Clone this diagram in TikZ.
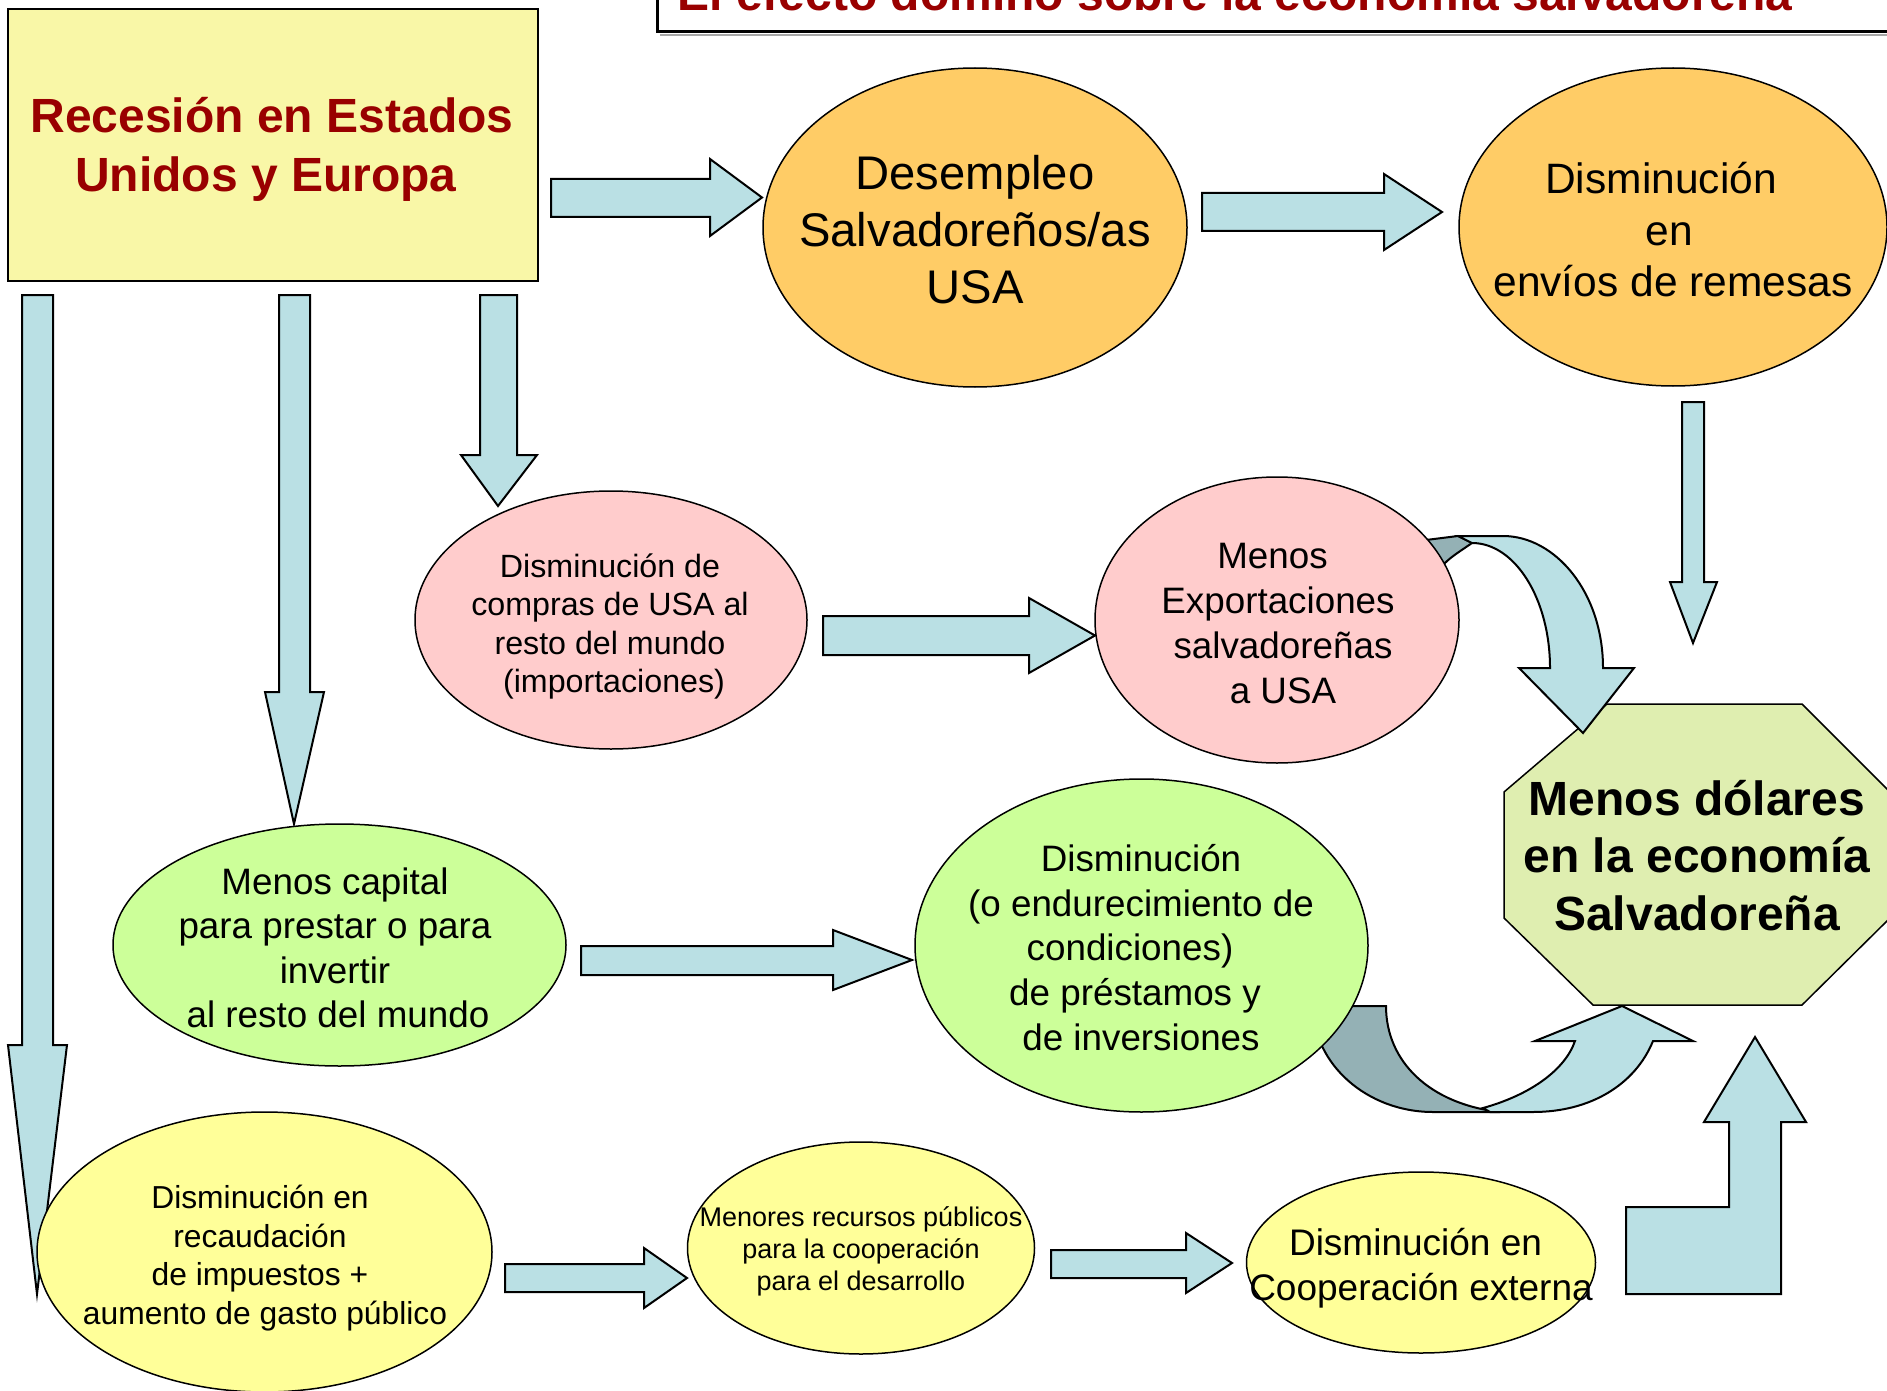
\documentclass[tikz,border=0pt]{standalone}
\usepackage{fontspec}
\setmainfont{Liberation Sans}
\usepackage{graphicx}
\usetikzlibrary{shapes.geometric}
\definecolor{boxyellow}{HTML}{F9F7A7}
\definecolor{darkred}{HTML}{990000}
\definecolor{orangefill}{HTML}{FFCC66}
\definecolor{pinkfill}{HTML}{FFCCCC}
\definecolor{greenfill}{HTML}{CCFF99}
\definecolor{octfill}{HTML}{DFEEB0}
\definecolor{yellowfill}{HTML}{FFFF99}
\definecolor{arrowblue}{HTML}{BAE0E4}
\definecolor{arrowdark}{HTML}{94B1B5}
% size, baselineskip, lines
\newcommand{\mtext}[3]{{\fontsize{#1}{#2}\selectfont\begin{tabular}{@{}c@{}}#3\end{tabular}}}
\newcommand{\ts}[1]{\hspace*{#1pt}}
\begin{document}
\begin{tikzpicture}[x=1pt,y=-1pt,
  ell/.style={ellipse, draw=black, line width=1.5pt, inner sep=0pt, outer sep=0pt},
  barrow/.style={draw=black, fill=arrowblue, line width=2pt, line join=miter},
  bdark/.style={draw=black, fill=arrowdark, line width=2pt},
  txt/.style={inner sep=0pt, outer sep=0pt, text=black}]
\clip (0,0) rectangle (1887,1391);
\fill[white] (0,0) rectangle (1887,1391);

% title box (cut at top)
\draw[black!35, line width=2pt] (660,35.5) -- (1900,35.5);
\draw[black, line width=3pt] (657,-30) -- (657,32) -- (1900,32);
\node[txt, text=darkred, font=\fontsize{48}{58}\selectfont\bfseries, anchor=base] (title) at (1235,11) {El efecto dominó sobre la economía salvadoreña};

% main box
\node[draw=black, line width=2pt, fill=boxyellow, minimum width=530, minimum height=272, inner sep=0pt, anchor=north west] (rec) at (7,8) {};

% straight block arrows
\draw[barrow] (551,179) -- (710,179) -- (710,159) -- (762,197.5) -- (710,236) -- (710,217) -- (551,217) -- cycle;
\draw[barrow] (1202,193) -- (1384,193) -- (1384,174) -- (1442,212) -- (1384,250) -- (1384,231) -- (1202,231) -- cycle;
\draw[barrow] (823,616) -- (1029,616) -- (1029,598) -- (1095,635.5) -- (1029,673) -- (1029,655) -- (823,655) -- cycle;
\draw[barrow] (581,946) -- (833,946) -- (833,930) -- (912,960) -- (833,990) -- (833,975) -- (581,975) -- cycle;
\draw[barrow] (505,1264) -- (644,1264) -- (644,1248) -- (687,1278) -- (644,1308) -- (644,1292) -- (505,1292) -- cycle;
\draw[barrow] (1051,1250) -- (1186,1250) -- (1186,1233) -- (1232,1263) -- (1186,1293) -- (1186,1278) -- (1051,1278) -- cycle;
\draw[barrow] (1682,402) -- (1682,582) -- (1670,582) -- (1693,643) -- (1717,582) -- (1704,582) -- (1704,402) -- cycle;
\draw[barrow] (480,295) -- (480,455) -- (461,455) -- (498,506) -- (537,455) -- (517,455) -- (517,295) -- cycle;
\draw[barrow] (279,295) -- (279,692) -- (265,692) -- (294,824) -- (324,692) -- (310,692) -- (310,295) -- cycle;
\draw[barrow] (22,295) -- (22,1045) -- (8,1045) -- (37,1294) -- (67,1045) -- (53,1045) -- (53,295) -- cycle;

% dark (back) parts of curved arrows
\draw[bdark] (1418,541) -- (1458,536) -- (1472,543) .. controls (1462,550) and (1452,556) .. (1445,563) -- (1418,562) -- cycle;
\draw[bdark] (1313,1006) -- (1386,1006) .. controls (1386,1062) and (1430,1104) .. (1500,1112) -- (1433,1112) .. controls (1367,1112) and (1313,1064) .. (1313,1006) -- cycle;

% ellipses
\node[ell, fill=orangefill, minimum width=424, minimum height=319] (e1) at (975,227.5) {};
\node[ell, fill=orangefill, minimum width=428, minimum height=318] (e2) at (1673,227) {};
\node[ell, fill=pinkfill, minimum width=392, minimum height=258] (e3) at (611,620) {};
\node[ell, fill=pinkfill, minimum width=364, minimum height=286] (e4) at (1277,620) {};
\node[ell, fill=greenfill, minimum width=453, minimum height=242] (e5) at (339.5,945) {};
\node[ell, fill=greenfill, minimum width=453, minimum height=333] (e6) at (1141.5,945.5) {};
\node[ell, fill=yellowfill, minimum width=455, minimum height=280] (e7) at (264.5,1252) {};
\node[ell, fill=yellowfill, minimum width=347, minimum height=212] (e8) at (861,1248) {};
\node[ell, fill=yellowfill, minimum width=349, minimum height=181] (e9) at (1421,1262.5) {};

% octagon
\draw[fill=octfill, line width=1.5pt] (1607,704) -- (1802,704) -- (1890,792) -- (1890,918) -- (1802,1005) -- (1593,1005) -- (1504,918) -- (1504,792) -- cycle;

% light parts of curved arrows
\draw[barrow] (1458,536) -- (1503,536) .. controls (1555,536) and (1603,592) .. (1603,668) -- (1634,668) -- (1583,733) -- (1519,668) -- (1550,668) .. controls (1550,599) and (1515,543) .. (1472,543) -- cycle;
\draw[barrow] (1483,1108) .. controls (1530,1095) and (1565,1070) .. (1575,1041) -- (1535,1041) -- (1622,1006) -- (1693,1041) -- (1653,1041) .. controls (1635,1085) and (1590,1112) .. (1533,1112) -- (1490,1112) -- cycle;

% bent up arrow
\draw[barrow] (1626,1294) -- (1626,1207) -- (1729,1207) -- (1729,1122) -- (1704,1122) -- (1755,1037) -- (1806,1122) -- (1781,1122) -- (1781,1294) -- cycle;

% texts
\node[txt, text=darkred, font=\bfseries] (t0) at (272,150.7) {\mtext{48}{59}{Recesión en Estados\\Unidos y Europa\ts{12}}};
\node[txt] (t1) at (975,235) {\mtext{47.2}{57}{Desempleo\\Salvadoreños/as\\USA}};
\node[txt] (t2) at (1673,235) {\mtext{42.5}{51.5}{Disminución\ts{24}\\en\ts{8}\\envíos de remesas}};
\node[txt] (t3) at (610,627.5) {\mtext{32.2}{38.5}{Disminución de\\compras de USA al\\resto del mundo\\\ts{8}(importaciones)}};
\node[txt] (t4) at (1278,627) {\mtext{36.8}{45}{Menos\ts{11}\\Exportaciones\\\ts{10}salvadoreñas\\\ts{10}a USA}};
\node[txt, font=\bfseries] (t5) at (1697,861) {\mtext{48}{57.5}{Menos dólares\\en la economía\\Salvadoreña}};
\node[txt] (t6) at (335,952) {\mtext{36.8}{44.5}{Menos capital\\para prestar o para\\invertir\\\ts{6}al resto del mundo}};
\node[txt] (t7) at (1141,952) {\mtext{36.8}{44.8}{Disminución\\(o endurecimiento de\\condiciones)\ts{22}\\de préstamos y\ts{12}\\de inversiones}};
\node[txt] (t8) at (265,1259) {\mtext{31.8}{38.5}{Disminución en\ts{10}\\recaudación\ts{10}\\de impuestos +\ts{10}\\aumento de gasto público}};
\node[txt] (t9) at (861,1252) {\mtext{27}{32}{Menores recursos públicos\\para la cooperación\\para el desarrollo}};
\node[txt] (t10) at (1421,1269) {\mtext{37}{44.5}{Disminución en\ts{11}\\Cooperación externa}};
\end{tikzpicture}
\end{document}
